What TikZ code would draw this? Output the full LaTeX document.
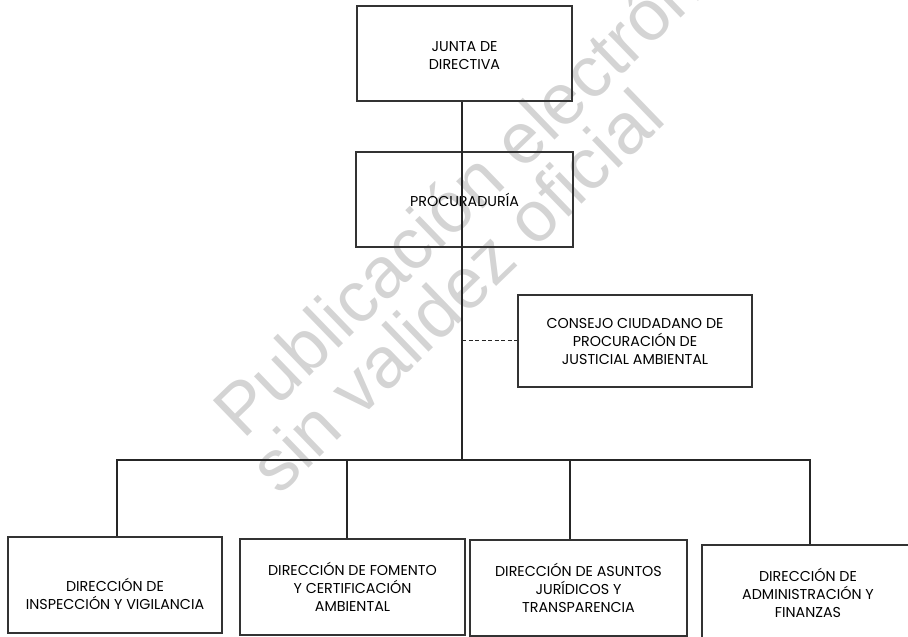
\documentclass[tikz,border=0pt]{standalone}
\usepackage{fontspec}
\setmainfont{Poppins}
\newfontfamily\wmfont{Liberation Sans}
\begin{document}
\begin{tikzpicture}[x=1pt,y=-1pt,
  unit/.style={draw=black!80,line width=1.1pt,align=center,inner sep=0pt,
    font=\fontsize{14.3}{18}\selectfont},
  label text/.style={align=center,inner sep=0pt,font=\fontsize{14.3}{18}\selectfont},
  link/.style={draw=black!85,line width=1.1pt},
  wm/.style={text=black!17,font=\wmfont\fontsize{72}{72}\selectfont,rotate=44,inner sep=0pt,anchor=base west}]
\useasboundingbox (0,0) rectangle (908,637);
% watermark
\node[wm] (wm1) at (243,441) {Publicación electrónica};
\node[wm] (wm2) at (279,497) {sin validez oficial};
% boxes
\node[unit,minimum width=215pt,minimum height=95pt] (junta) at (464.5,53.5) {};
\node[label text] (juntat) at (464.5,56) {JUNTA DE\\DIRECTIVA};
\node[unit,minimum width=217pt,minimum height=95pt] (proc) at (464.5,199.5) {PROCURADURÍA};
\node[unit,minimum width=234pt,minimum height=92pt] (cons) at (635,341) {CONSEJO CIUDADANO DE\\PROCURACIÓN DE\\JUSTICIAL AMBIENTAL};
\node[unit,minimum width=214pt,minimum height=96pt] (d1) at (115,585) {};
\node[label text] (d1t) at (115,594) {DIRECCIÓN DE\\INSPECCIÓN Y VIGILANCIA};
\node[unit,minimum width=225pt,minimum height=96pt] (d2) at (352.5,587) {DIRECCIÓN DE FOMENTO\\Y CERTIFICACIÓN\\AMBIENTAL};
\node[unit,minimum width=217pt,minimum height=96pt] (d3) at (578.5,588) {DIRECCIÓN DE ASUNTOS\\JURÍDICOS Y\\TRANSPARENCIA};
\node[unit,minimum width=212pt,minimum height=96pt] (d4) at (808,593) {DIRECCIÓN DE\\ADMINISTRACIÓN Y\\FINANZAS};
% connectors
\coordinate (bus) at (462,460);
\coordinate (dash) at (462,340);
\draw[link] (junta.south -| bus) -- (proc.south -| bus) -- (bus);
\draw[link,dashed,dash pattern=on 4pt off 2.5pt,line width=0.8pt] (dash) -- (cons.west |- dash);
\draw[link] (d1.north -| 117,0) |- (bus) -| (d4.north -| 810,0);
\draw[link] (347,460) -- (d2.north -| 347,0);
\draw[link] (570,460) -- (d3.north -| 570,0);
\end{tikzpicture}
\end{document}
